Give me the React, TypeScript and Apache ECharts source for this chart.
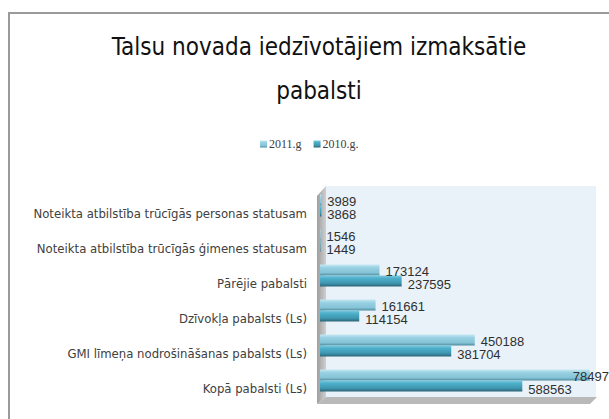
import React, { useEffect, useRef } from "react";
import * as echarts from "echarts";

const categories = [
  "Kopā pabalsti (Ls)",
  "GMI līmeņa nodrošināšanas pabalsts (Ls)",
  "Dzīvokļa pabalsts (Ls)",
  "Pārējie pabalsti",
  "Noteikta atbilstība trūcīgās ģimenes statusam",
  "Noteikta atbilstība trūcīgās personas statusam",
];
const values2011 = [784972, 450188, 161661, 173124, 1546, 3989];
const values2010 = [588563, 381704, 114154, 237595, 1449, 3868];
const seriesNames = ["2011.g", "2010.g."];
const titleText = "Talsu novada iedzīvotājiem izmaksātie\npabalsti";

const grad = (stops: [number, string][]) =>
  new echarts.graphic.LinearGradient(0, 0, 0, 1, stops.map(([offset, color]) => ({ offset, color })));

export default function App() {
  const ref = useRef<HTMLDivElement>(null);
  useEffect(() => {
    if (!ref.current) return;
    const chart = echarts.init(ref.current, null, { renderer: "svg" });
    const narrow = "'Liberation Sans Narrow', 'DejaVu Sans Condensed', sans-serif";
    chart.setOption({
      animation: false,
      backgroundColor: "#ffffff",
      title: {
        text: titleText,
        left: 314,
        textAlign: "center",
        top: 20,
        textStyle: {
          fontFamily: narrow,
          fontSize: 24,
          fontWeight: "normal",
          color: "#111111",
          lineHeight: 44,
        },
      },
      legend: {
        data: [seriesNames[0], seriesNames[1]],
        left: 255,
        top: 133,
        itemWidth: 7,
        itemHeight: 7,
        itemGap: 12,
        icon: "rect",
        textStyle: { fontFamily: "'Liberation Serif', serif", fontSize: 12, color: "#404040", padding: [0, 0, 0, -3] },
      },
      graphic: [
        {
          type: "rect",
          silent: true,
          shape: { x: 9, y: 13, width: 700, height: 500 },
          style: { fill: "none", stroke: "#9a9a9a", lineWidth: 2 },
          z: 0,
        },
        {
          type: "rect",
          silent: true,
          shape: { x: 326, y: 186, width: 270, height: 212 },
          style: { fill: "#e9f2f8" },
          z: 0,
        },
        {
          type: "polygon",
          silent: true,
          shape: { points: [[317, 196], [326, 186], [326, 397], [317, 404]] },
          style: {
            fill: new echarts.graphic.LinearGradient(0, 0, 1, 0, [
              { offset: 0, color: "#9e9e9e" },
              { offset: 1, color: "#cfcfcf" },
            ]),
          },
          z: 0,
        },
        {
          type: "polygon",
          silent: true,
          shape: { points: [[317, 404], [326, 397], [597, 397], [590, 404]] },
          style: { fill: "#b9b9b9" },
          z: 0,
        },
      ],
      grid: { left: 320, right: 14, top: 188, bottom: 21, containLabel: false },
      xAxis: {
        type: "value",
        min: 0,
        max: 800000,
        show: false,
        splitLine: { show: false },
      },
      yAxis: {
        type: "category",
        data: categories,
        axisLine: { show: false },
        axisTick: { show: false },
        axisLabel: {
          fontFamily: narrow,
          fontSize: 13,
          color: "#404040",
          margin: 13,
          verticalAlign: "top",
          padding: [1, 0, 0, 0],
        },
      },
      series: [
        {
          name: seriesNames[0],
          type: "bar",
          data: values2011.map((v, i) =>
            i === 0 ? { value: v, label: { offset: [-23, 1] } } : v
          ),
          barWidth: 11,
          barGap: "0%",
          itemStyle: {
            color: grad([
              [0, "#c6e8f2"],
              [0.3, "#97d0e2"],
              [0.75, "#86c3d6"],
              [1, "#4c8a9d"],
            ]),
          },
          label: {
            show: true,
            position: "right",
            distance: 6,
            offset: [0, 1],
            fontFamily: "'Liberation Sans', sans-serif",
            fontSize: 13,
            color: "#303030",
          },
          z: 3,
        },
        {
          name: seriesNames[1],
          type: "bar",
          data: values2010,
          barWidth: 11,
          barGap: "0%",
          itemStyle: {
            color: grad([
              [0, "#7dcbe0"],
              [0.25, "#4eb0cb"],
              [0.7, "#3f96b0"],
              [1, "#2b6476"],
            ]),
          },
          label: {
            show: true,
            position: "right",
            distance: 6,
            offset: [0, 3],
            fontFamily: "'Liberation Sans', sans-serif",
            fontSize: 13,
            color: "#303030",
          },
          z: 3,
        },
      ],
    });
    return () => chart.dispose();
  }, []);
  return (
    <div
      ref={ref}
      style={{ position: "absolute", left: 0, top: 0, width: 609, height: 419 }}
    />
  );
}
